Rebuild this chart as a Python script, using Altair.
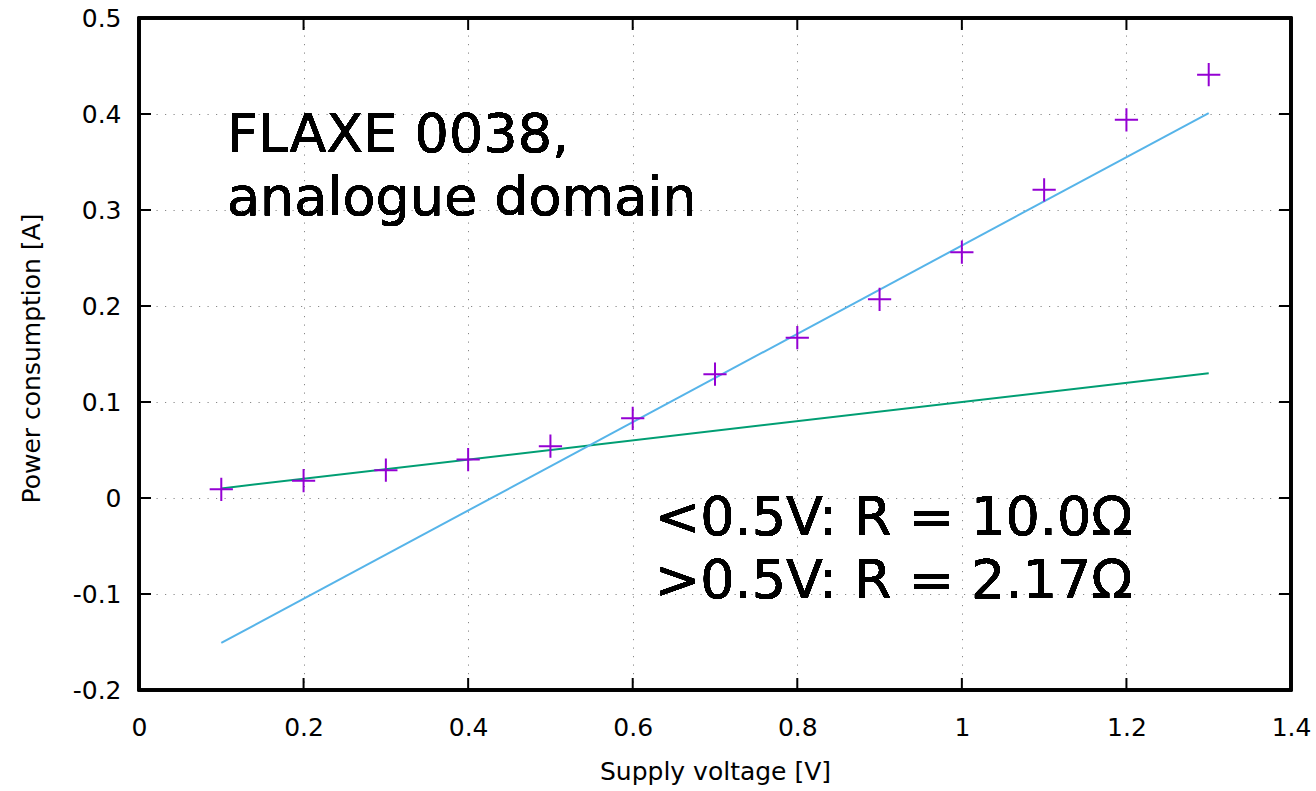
import altair as alt
import pandas as pd

# measured data (purple crosses)
voltage = [0.1, 0.2, 0.3, 0.4, 0.5, 0.6, 0.7, 0.8, 0.9, 1.0, 1.1, 1.2, 1.3]
current = [0.009, 0.018, 0.029, 0.040, 0.054, 0.083, 0.129, 0.167, 0.207, 0.256, 0.321, 0.394, 0.441]

# fit lines (endpoints)
fit_x = [0.1, 1.3]
fit_low = [0.01, 0.13]      # <0.5V fit, R = 10.0 Ohm
fit_high = [-0.151, 0.401]  # >0.5V fit, R = 2.17 Ohm

x_ticks = [0, 0.2, 0.4, 0.6, 0.8, 1.0, 1.2, 1.4]
y_ticks = [-0.2, -0.1, 0, 0.1, 0.2, 0.3, 0.4, 0.5]

title_lines = ["FLAXE 0038,", "analogue domain"]
fit_lines_text = ["<0.5V: R = 10.0\u03a9", ">0.5V: R = 2.17\u03a9"]

W, H = 1152, 672
FONT = "DejaVu Sans"
FS = 25

pts = pd.DataFrame({"v": voltage, "i": current})
fits = pd.DataFrame({"v": fit_x + fit_x,
                     "i": fit_low + fit_high,
                     "fit": ["low", "low", "high", "high"]})
xt = pd.DataFrame({"v": x_ticks})
yt = pd.DataFrame({"i": y_ticks})

xscale = alt.Scale(domain=[0, 1.4], nice=False, zero=False)
yscale = alt.Scale(domain=[-0.2, 0.5], nice=False, zero=False)

xaxis = alt.Axis(values=x_ticks, format="~g", title="Supply voltage [V]",
                 domain=False, ticks=False, grid=True,
                 gridColor="#888888", gridDash=[1.2, 7.3], gridWidth=1,
                 labelFont=FONT, labelFontSize=FS, labelColor="black",
                 labelPadding=25, labelFlush=False,
                 titleFont=FONT, titleFontSize=FS, titleFontWeight="normal",
                 titleColor="black", titleX=W / 2, titleY=89,
                 titleBaseline="alphabetic")
yaxis = alt.Axis(values=y_ticks, title="Power consumption [A]",
                 labelExpr="datum.value < 0 ? '-' + format(-datum.value, '~g') : format(datum.value, '~g')",
                 domain=False, ticks=False, grid=True,
                 gridColor="#888888", gridDash=[1.2, 7.3], gridWidth=1,
                 labelFont=FONT, labelFontSize=FS, labelColor="black",
                 labelPadding=18, labelFlush=False,
                 titleFont=FONT, titleFontSize=FS, titleFontWeight="normal",
                 titleColor="black", titleX=-108, titleY=H / 2 + 4,
                 titleAngle=-90, titleAlign="center", titleBaseline="middle")

base_axes = alt.Chart(pts).mark_point(opacity=0).encode(
    x=alt.X("v:Q", scale=xscale, axis=xaxis),
    y=alt.Y("i:Q", scale=yscale, axis=yaxis),
)

border = alt.Chart(pts).mark_rect(filled=False, stroke="black", strokeWidth=2.5).encode(
    x=alt.value(0), x2=alt.value(W), y=alt.value(0), y2=alt.value(H))

fit_chart = alt.Chart(fits).mark_line(strokeWidth=2).encode(
    x=alt.X("v:Q", scale=xscale),
    y=alt.Y("i:Q", scale=yscale),
    detail="fit:N",
    color=alt.Color("fit:N", scale=alt.Scale(domain=["low", "high"],
                                             range=["#009E73", "#56B4E9"]),
                    legend=None),
)

cross = alt.Chart(pts).mark_point(shape="M-1,0L1,0M0,-1L0,1", size=540,
                                  filled=False, stroke="#9400D3",
                                  strokeWidth=2, opacity=1).encode(
    x=alt.X("v:Q", scale=xscale),
    y=alt.Y("i:Q", scale=yscale),
)

tick_len = 12
bottom_ticks = alt.Chart(xt).mark_rule(color="black", strokeWidth=2).encode(
    x=alt.X("v:Q", scale=xscale), y=alt.value(H), y2=alt.value(H - tick_len))
top_ticks = alt.Chart(xt).mark_rule(color="black", strokeWidth=2).encode(
    x=alt.X("v:Q", scale=xscale), y=alt.value(0), y2=alt.value(tick_len))
left_ticks = alt.Chart(yt).mark_rule(color="black", strokeWidth=2).encode(
    y=alt.Y("i:Q", scale=yscale), x=alt.value(0), x2=alt.value(tick_len))
right_ticks = alt.Chart(yt).mark_rule(color="black", strokeWidth=2).encode(
    y=alt.Y("i:Q", scale=yscale), x=alt.value(W), x2=alt.value(W - tick_len))

label1 = alt.Chart(pts).mark_text(text=title_lines, font=FONT, fontSize=54,
                                  align="left", baseline="alphabetic",
                                  lineHeight=63, color="black").encode(
    x=alt.value(88), y=alt.value(134))
label2 = alt.Chart(pts).mark_text(text=fit_lines_text, font=FONT, fontSize=54,
                                  align="left", baseline="alphabetic",
                                  lineHeight=63, color="black").encode(
    x=alt.value(516), y=alt.value(517))

chart = alt.layer(
    base_axes, bottom_ticks, top_ticks, left_ticks, right_ticks,
    label1, label2, fit_chart, cross, border,
).properties(
    width=W, height=H,
    autosize=alt.AutoSizeParams(type="none"),
    padding={"left": 139, "top": 18, "right": 25, "bottom": 101},
).configure_view(stroke="black", strokeWidth=2).configure(background="white")

chart.save("out.html", embed_options={"renderer": "svg", "actions": False})
